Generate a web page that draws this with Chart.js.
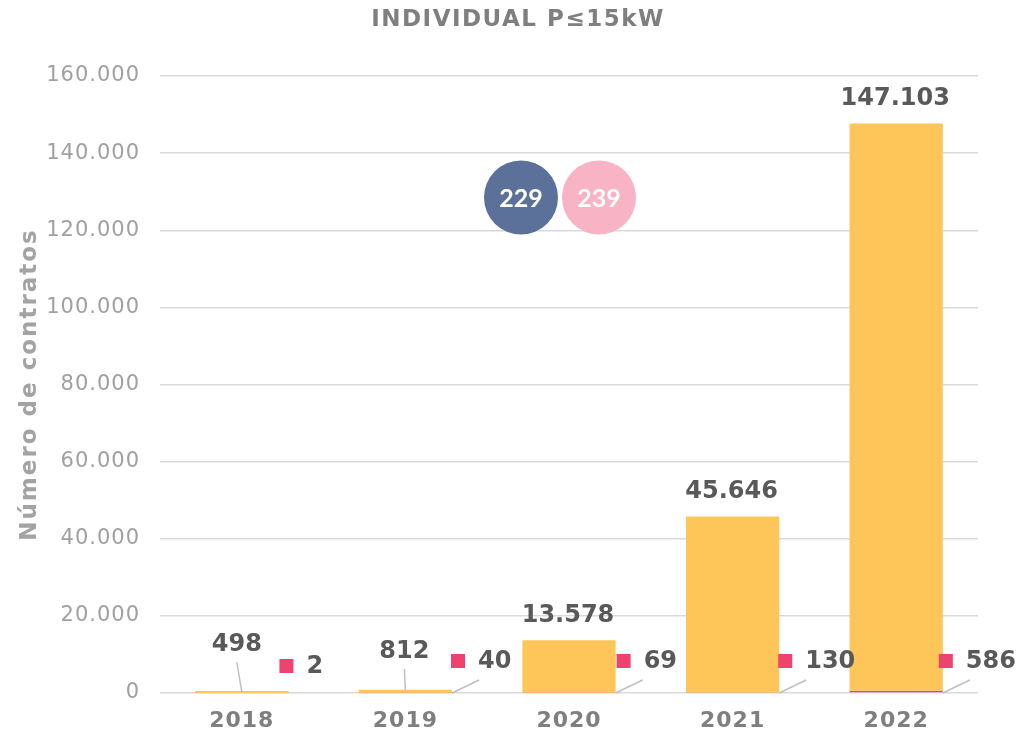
<!DOCTYPE html>
<html>
<head>
<meta charset="utf-8">
<script src="https://cdn.jsdelivr.net/npm/chart.js@4.4.1/dist/chart.umd.min.js"></script>
<style>
  body { margin: 0; background: #fff; }
  #wrap { width: 1018px; height: 731px; }
</style>
</head>
<body>
<div id="wrap"><canvas id="chart" width="1018" height="731"></canvas></div>
<script>
// data
const years = ['2018', '2019', '2020', '2021', '2022']
const contratos = [498, 812, 13578, 45646, 147103]      // yellow bars
const otros = [2, 40, 69, 130, 586]                      // pink segment at the bottom
const badges = [229, 239]                                // the two round badges
const badgeColors = ['#5B7199', '#F8B3C5']

const YELLOW = '#FEC659'
const PINK = '#EF426F'
const FONT = '"DejaVu Sans", Verdana, sans-serif'

const fmt = v => String(Math.round(v)).replace(/\B(?=(\d{3})+(?!\d))/g, '.')

// yellow sits on top of the pink part
const yellowRange = contratos.map((v, i) => [otros[i], otros[i] + v])

// labels, leader lines, titles and badges
const overlay = {
  id: 'overlay',
  beforeDraw(chart) {
    // the reference text runs a little wider than DejaVu
    chart.ctx.letterSpacing = '1px'
  },
  beforeDatasetsDraw(chart) {
    chart.ctx.letterSpacing = '0px'
  },
  afterDatasetsDraw(chart) {
    const ctx = chart.ctx
    const x = chart.scales.x, y = chart.scales.y
    const base = y.getPixelForValue(0)
    const barsY = chart.getDatasetMeta(1).data
    const barsP = chart.getDatasetMeta(0).data
    ctx.save()

    // chart title
    ctx.fillStyle = '#7F7F7F'
    ctx.font = 'bold 23px ' + FONT
    ctx.letterSpacing = '1.5px'
    ctx.textAlign = 'center'
    ctx.textBaseline = 'middle'
    ctx.fillText('INDIVIDUAL P≤15kW', 518, 20)

    // y axis title
    ctx.save()
    ctx.translate(30, (chart.chartArea.top + chart.chartArea.bottom) / 2)
    ctx.rotate(-Math.PI / 2)
    ctx.fillStyle = '#A3A3A3'
    ctx.font = 'bold 23px ' + FONT
    ctx.letterSpacing = '2px'
    ctx.fillText('Número de contratos', 0, 0)
    ctx.restore()
    ctx.letterSpacing = '0px'

    // yellow values
    ctx.font = 'bold 24px ' + FONT
    barsY.forEach((bar, i) => {
      const top = y.getPixelForValue(contratos[i] + otros[i])
      let ly = top - 25
      const lifted = base - top < 30
      if (lifted) ly = base - (i === 0 ? 48 : 41)
      let lx = bar.x - (i === 0 ? 5 : 1)
      if (lifted) {
        ctx.strokeStyle = '#BFBFBF'
        ctx.lineWidth = 1.5
        ctx.beginPath()
        ctx.moveTo(lx, ly + 17)
        ctx.lineTo(bar.x, base - 1)
        ctx.stroke()
      }
      ctx.fillStyle = '#595959'
      ctx.fillText(fmt(contratos[i]), lx, ly)
    })

    // pink values with square key
    const nudge = [-9, -1, 1, -1, -4]
    ctx.textAlign = 'left'
    barsP.forEach((bar, i) => {
      const right = bar.x + bar.width / 2
      const ly = base - (i === 0 ? 27 : 32)
      if (i > 0) {
        ctx.strokeStyle = '#BFBFBF'
        ctx.lineWidth = 1.5
        ctx.beginPath()
        ctx.moveTo(right, base)
        ctx.lineTo(right + 27, base - 13)
        ctx.stroke()
      }
      const sx = right + nudge[i]
      ctx.fillStyle = PINK
      ctx.fillRect(sx, ly - 7, 14, 14)
      ctx.fillStyle = '#595959'
      ctx.fillText(fmt(otros[i]), sx + 27, ly + 1)
    })

    // badges
    const cx = x.getPixelForValue(2)
    const cy = y.getPixelForValue(128500)
    const offs = [-48, 30]
    ctx.textAlign = 'center'
    ctx.font = 'bold 25px Lato, "Open Sans", sans-serif'
    badges.forEach((b, i) => {
      ctx.fillStyle = badgeColors[i]
      ctx.beginPath()
      ctx.arc(cx + offs[i], cy, 37, 0, Math.PI * 2)
      ctx.fill()
      ctx.fillStyle = '#fff'
      ctx.fillText(String(b), cx + offs[i], cy + 1)
    })
    ctx.restore()
  }
}

new Chart(document.getElementById('chart'), {
  type: 'bar',
  data: {
    labels: years,
    datasets: [
      { label: 'otros', data: otros, backgroundColor: PINK, order: 2, inflateAmount: 0 },
      { label: 'contratos', data: yellowRange, backgroundColor: YELLOW, order: 1, inflateAmount: 0 }
    ]
  },
  options: {
    responsive: false,
    maintainAspectRatio: false,
    animation: false,
    layout: { padding: { top: 76, right: 40, left: 0, bottom: 0 } },
    datasets: { bar: { categoryPercentage: 1, barPercentage: 0.57, grouped: false } },
    plugins: { legend: { display: false }, tooltip: { enabled: false }, title: { display: false } },
    scales: {
      x: {
        grid: { display: false, drawTicks: false },
        border: { display: false },
        ticks: { color: '#7F7F7F', font: { family: FONT, size: 22, weight: 'bold' }, padding: 15 },
        afterFit: s => { s.height = 38 }
      },
      y: {
        min: 0, max: 160000,
        grid: { color: '#D9D9D9', lineWidth: 1.5, drawTicks: false },
        border: { display: false },
        ticks: {
          stepSize: 20000,
          color: '#A0A0A0',
          padding: 20,
          font: { family: FONT, size: 21 },
          callback: v => fmt(v)
        },
        afterFit: s => { s.width = 160 }
      }
    }
  },
  plugins: [overlay]
})
</script>
</body>
</html>
